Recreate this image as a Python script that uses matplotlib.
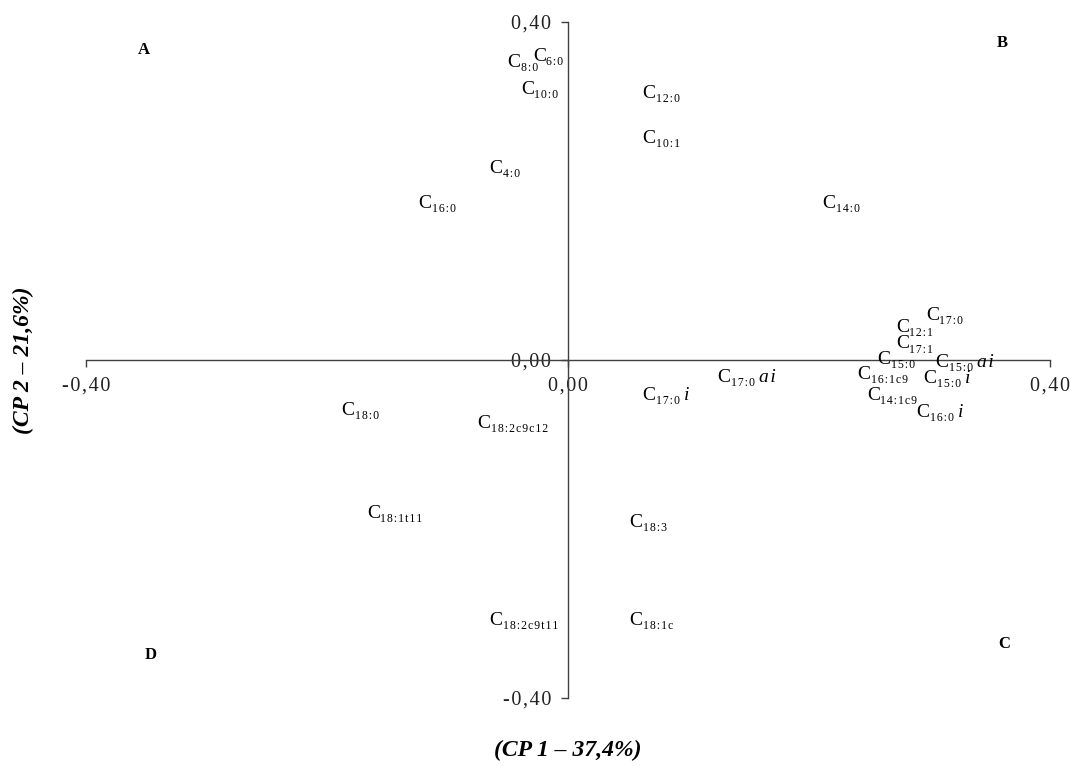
import matplotlib
matplotlib.use('Agg')
import matplotlib.pyplot as plt

plt.rcParams['font.family'] = ['Liberation Serif', 'DejaVu Serif']

# loadings on CP1 / CP2
names = ['8:0', '6:0', '10:0', '12:0', '10:1', '4:0', '16:0', '14:0',
         '17:0', '12:1', '17:1', '15:0', '15:0', '16:1c9', '15:0', '14:1c9',
         '16:0', '17:0', '17:0', '18:0', '18:2c9c12', '18:1t11', '18:2c9t11',
         '18:3', '18:1c']
suffix = ['', '', '', '', '', '', '', '',
          '', '', '', '', 'ai', '', 'i', '',
          'i', 'ai', 'i', '', '', '', '',
          '', '']
cp1 = [-0.050, -0.029, -0.039, 0.062, 0.062, -0.065, -0.124, 0.211,
       0.297, 0.272, 0.272, 0.257, 0.305, 0.240, 0.295, 0.248,
       0.289, 0.124, 0.062, -0.188, -0.075, -0.167, -0.065,
       0.051, 0.051]
cp2 = [0.355, 0.362, 0.323, 0.318, 0.265, 0.230, 0.188, 0.188,
       0.056, 0.041, 0.022, 0.004, 0.000, -0.014, -0.019, -0.039,
       -0.059, -0.018, -0.039, -0.057, -0.072, -0.179, -0.305,
       -0.189, -0.305]

quadrants = ['A', 'B', 'C', 'D']
quad_x = [-0.352, 0.360, 0.362, -0.346]
quad_y = [0.367, 0.375, -0.336, -0.349]

hair = '\u200a'

fig = plt.figure(figsize=(10.71, 7.66), dpi=100)
ax = fig.add_axes([86/1071, 68/766, 964/1071, 676/766])

ax.set_xlim(-0.40, 0.40)
ax.set_ylim(-0.40, 0.40)
for s in ['top', 'right']:
    ax.spines[s].set_visible(False)
for s in ['left', 'bottom']:
    ax.spines[s].set_position(('data', 0))
    ax.spines[s].set_color('#404040')
    ax.spines[s].set_linewidth(1.0)

ticks = [-0.40, 0.0, 0.40]
ticklabels = [hair.join('-0,40'), hair.join('0,00'), hair.join('0,40')]
ax.set_xticks(ticks)
ax.set_xticklabels(ticklabels)
ax.set_yticks(ticks)
ax.set_yticklabels(ticklabels)
ax.tick_params(direction='out', length=5, width=1, colors='#404040',
               labelsize=14.5, labelcolor='#222222', pad=7)

for n, sfx, x, y in zip(names, suffix, cp1, cp2):
    c = ax.annotate('C', (x, y), xytext=(0, -5), textcoords='offset points',
                    ha='left', va='baseline', fontsize=14)
    sub = ax.annotate(hair.join(n), (x, y), xytext=(9.6, -8),
                      textcoords='offset points', ha='left', va='baseline',
                      fontsize=8.5)
    if sfx:
        ax.annotate(hair.join(sfx), xy=(1, 0), xycoords=(sub, c),
                    xytext=(3, 0), textcoords='offset points',
                    ha='left', va='bottom', fontsize=14, fontstyle='italic')

for q, x, y in zip(quadrants, quad_x, quad_y):
    ax.text(x, y, q, fontsize=12, fontweight='bold', ha='center', va='center')

fig.text(568/1071, 1 - 750/766, '(CP 1 – 37,4%)', fontsize=17,
         fontweight='bold', fontstyle='italic', ha='center', va='center')
fig.text(23/1071, 1 - 360/766, '(CP 2 – 21,6%)', fontsize=17,
         fontweight='bold', fontstyle='italic', ha='center', va='center',
         rotation=90)

plt.savefig('out.png', dpi=100)
